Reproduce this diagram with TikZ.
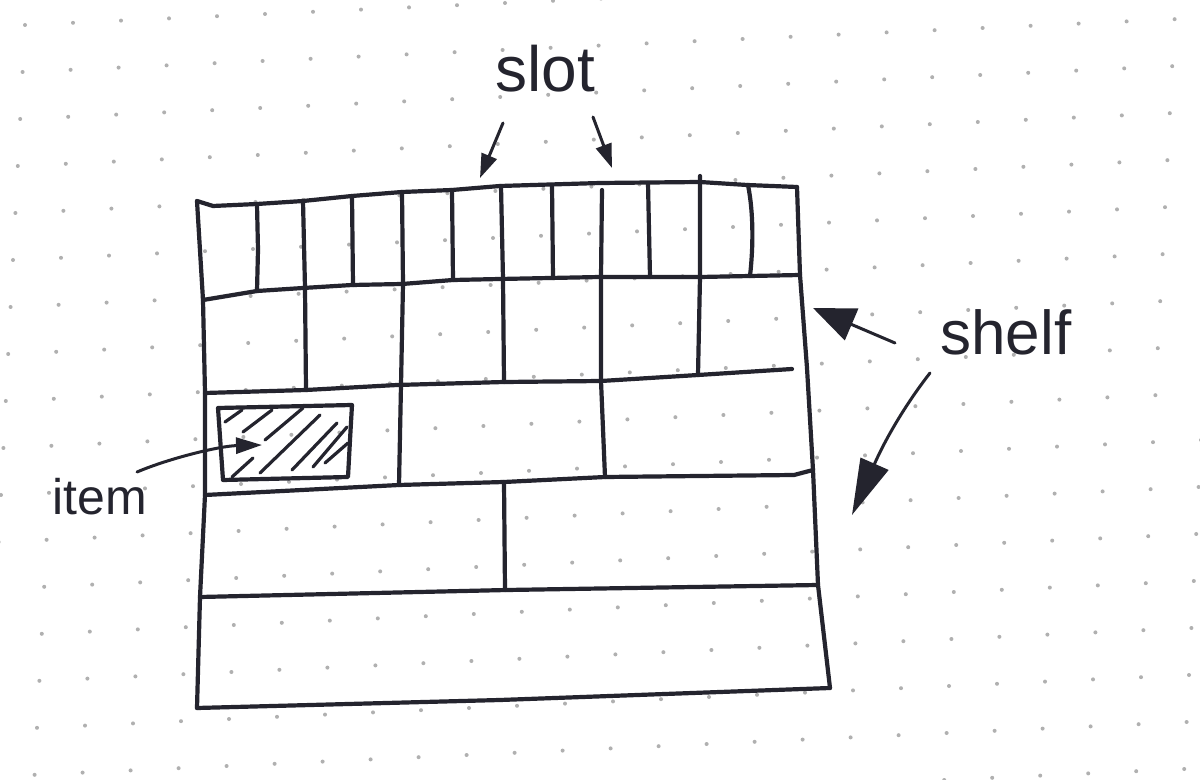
\documentclass[tikz,border=0pt]{standalone}
\usepackage{fontspec}
\setmainfont{Liberation Sans}
\usetikzlibrary{arrows.meta}
\definecolor{ink}{HTML}{24242E}
\definecolor{dotc}{HTML}{B0B0B0}
\begin{document}
\begin{tikzpicture}[x=0.5pt,y=-0.5pt,
  ink/.style={draw=ink,line width=2.1pt,line cap=round,line join=round},
  pen/.style={draw=ink,line width=1.5pt,line cap=round},
  hatch/.style={draw=ink,line width=1.6pt,line cap=round},
  lbl/.style={text=ink,inner sep=0pt,anchor=base}]
\useasboundingbox (0,0) rectangle (1200,780);
\fill[white] (0,0) rectangle (1200,780);
% dotted paper
\foreach \i in {-1,...,25}{\foreach \j in {-1,...,17}{
  \fill[dotc] ({25+48*\i-2.4*\j},{25+47*\j-2.2*\i}) circle[radius=2];
}}
% outer frame
\draw[ink] (197,201) -- (213,206) -- (257,204) -- (303,201) -- (352,196) -- (402,192) -- (452,190) -- (500,186) -- (600,183) -- (700,182) -- (747,185) -- (797,187);
\draw[ink] (797,187) -- (800,275) -- (807,368) -- (813,470) -- (818,585) -- (830,688);
\draw[ink] (197,201) -- (203,300) -- (205,393) -- (205,495) -- (200,597) -- (197,708);
\draw[ink] (197,708) -- (500,700) -- (830,688);
% shelves
\draw[ink] (203,300) -- (257,291) -- (303,288) -- (352,285) -- (402,284) -- (453,280) -- (500,279) -- (600,277) -- (700,277) -- (800,275);
\draw[ink] (205,393) -- (306,390) -- (397,385) -- (504,382) -- (601,381) -- (698,375) -- (792,369);
\draw[ink] (205,495) -- (399,485) -- (504,482) -- (605,477) -- (794,475) -- (813,470);
\draw[ink] (200,597) -- (507,590) -- (818,585);
% slot dividers
\draw[ink] (257,204) -- (258,250) -- (257,291);
\draw[ink] (303,201) -- (305,288) -- (306,390);
\draw[ink] (352,196) -- (353,285);
\draw[ink] (402,192) -- (403,284) -- (401,385) -- (399,485);
\draw[ink] (452,190) -- (453,280);
\draw[ink] (501,186) -- (503,279) -- (504,382);
\draw[ink] (552,185) -- (553,278);
\draw[ink] (602,190) -- (601,277) -- (601,381) -- (605,477);
\draw[ink] (648,183) -- (650,277);
\draw[ink] (700,176) -- (700,277) -- (698,375);
\draw[ink] (748,185) .. controls (754,215) and (753,250) .. (750,276);
\draw[ink] (504,482) -- (505,590);
% item
\draw[ink] (218,408) -- (352,405) -- (350,440) -- (348,477) -- (223,480) -- cycle;
\draw[hatch] (225,422) -- (242,410);
\draw[hatch] (243,432) -- (272,410);
\draw[hatch] (265,440) -- (303,408);
\draw[hatch] (232,477) -- (253,458);
\draw[hatch] (260,473) -- (320,415);
\draw[hatch] (292,470) -- (337,423);
\draw[hatch] (313,467) -- (347,427);
\draw[hatch] (325,463) -- (348,443);
% labels
\node[lbl,font=\fontsize{32pt}{36pt}\selectfont] (slotlbl) at (545,92) {slot};
\node[lbl,font=\fontsize{31pt}{36pt}\selectfont] (shelflbl) at (1006,355) {shelf};
\node[lbl,font=\fontsize{25pt}{30pt}\selectfont] (itemlbl) at (100,515) {item};
% arrow ends
\coordinate (slotA) at (503,123);
\coordinate (slotAtip) at (480,178);
\coordinate (slotB) at (593,117);
\coordinate (slotBtip) at (612,168);
\coordinate (shelfA) at (895,343);
\coordinate (shelfAtip) at (813,308);
\coordinate (shelfB) at (930,373);
\coordinate (shelfBtip) at (852,515);
\coordinate (itemA) at (137,472);
\coordinate (itemtip) at (262,445);
% arrows
\draw[pen,-{Triangle[length=12pt,width=8pt]}] (slotA) -- (slotAtip);
\draw[pen,-{Triangle[length=12pt,width=8pt]}] (slotB) -- (slotBtip);
\draw[pen,-{Triangle[length=21pt,width=17pt]}] (shelfA) -- (shelfAtip);
\draw[pen,-{Triangle[length=28pt,width=15pt]}] (shelfB) .. controls (905,405) and (885,440) .. (shelfBtip);
\draw[pen,-{Triangle[length=13pt,width=8pt]}] (itemA) .. controls (170,458) and (220,446) .. (itemtip);
\end{tikzpicture}
\end{document}
